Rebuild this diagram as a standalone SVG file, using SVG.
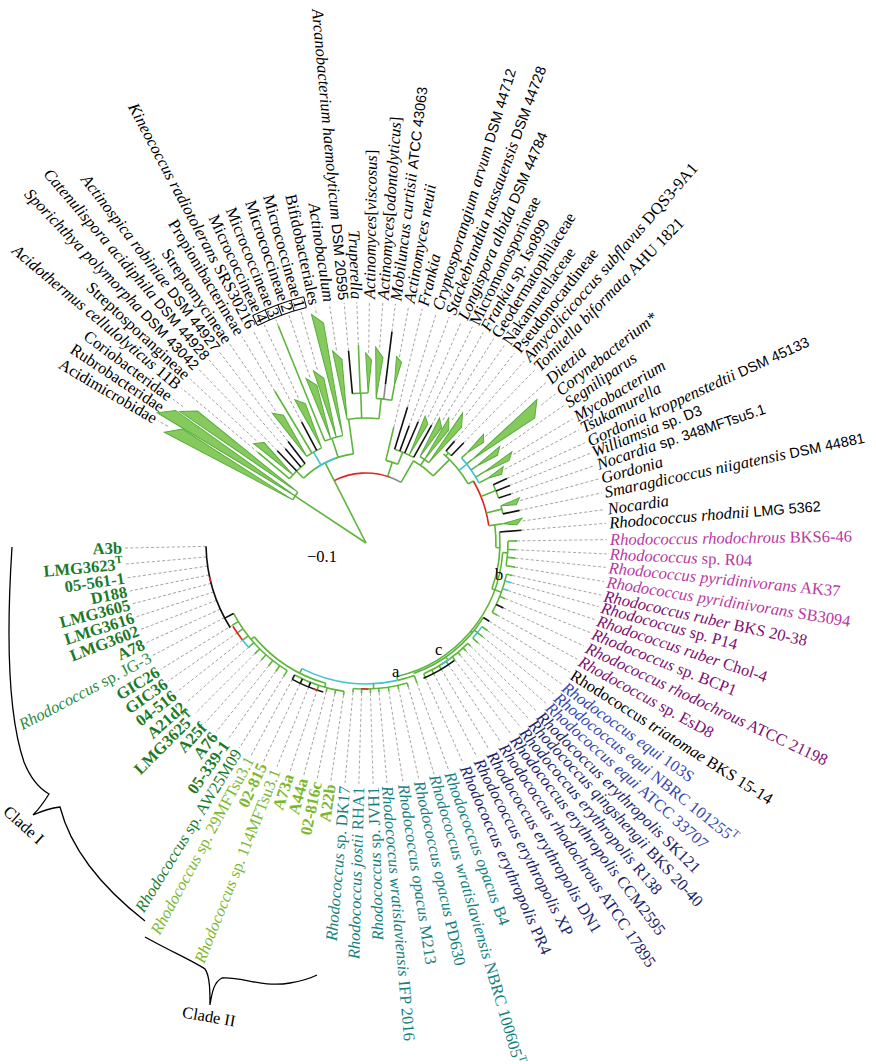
<svg xmlns="http://www.w3.org/2000/svg" width="876" height="1064" viewBox="0 0 876 1064">
<style>
.t{font-family:"Liberation Serif","Times New Roman",serif;font-size:16.5px;fill:#000}
.e{text-anchor:end}
.i{font-style:italic}
.s{font-family:"Liberation Sans",Arial,sans-serif;font-size:14.5px}
.bd{font-weight:bold}
.mg{fill:#b8399f}
.pu{fill:#7d0f72}
.bl{fill:#3447b0}
.nv{fill:#1c1f6e}
.te{fill:#14817f}
.lg{fill:#7ab82e}
.dg{fill:#1a7a2a}
.dg2{fill:#2c8c3c}
.g{stroke:#5db63b;stroke-width:1.6;fill:none}
.k{stroke:#111;stroke-width:1.6;fill:none}
.r{stroke:#e3231d;stroke-width:1.6;fill:none}
.c{stroke:#3fc3d9;stroke-width:1.6;fill:none}
.y{stroke:#8a8a8a;stroke-width:1.6;fill:none}
.tri{fill:#86c95d;stroke:#57ae3b;stroke-width:1}
.d{stroke:#a0a0a0;stroke-width:0.9;stroke-dasharray:3 2.2;fill:none}
.br{stroke:#000;stroke-width:1.3;fill:none}
.lad{stroke:#000;stroke-width:1;fill:none}
</style>

<g id="connectors" transform="translate(366 543)">
<g id="leaders">
<line class="d" x1="230" x2="241" transform="rotate(210.5)"/>
<line class="d" x1="228" x2="241" transform="rotate(216.7)"/>
<line class="d" x1="141" x2="241" transform="rotate(220)"/>
<line class="d" x1="150" x2="241" transform="rotate(223)"/>
<line class="d" x1="128" x2="241" transform="rotate(226.1)"/>
<line class="d" x1="124" x2="241" transform="rotate(229.4)"/>
<line class="d" x1="128" x2="241" transform="rotate(232.5)"/>
<line class="d" x1="160" x2="241" transform="rotate(235.6)"/>
<line class="d" x1="177" x2="241" transform="rotate(239)"/>
<line class="d" x1="137" x2="241" transform="rotate(242)"/>
<line class="d" x1="160" x2="241" transform="rotate(245)"/>
<line class="d" x1="234" x2="241" transform="rotate(248)"/>
<line class="d" x1="175" x2="241" transform="rotate(251.3)"/>
<line class="d" x1="180" x2="241" transform="rotate(254.3)"/>
<line class="d" x1="235" x2="241" transform="rotate(257.8)"/>
<line class="d" x1="195" x2="241" transform="rotate(261.3)"/>
<line class="d" x1="193" x2="241" transform="rotate(264.8)"/>
<line class="d" x1="198" x2="241" transform="rotate(267.8)"/>
<line class="d" x1="190" x2="241" transform="rotate(270.8)"/>
<line class="d" x1="196" x2="241" transform="rotate(274)"/>
<line class="d" x1="213" x2="241" transform="rotate(277)"/>
<line class="d" x1="189" x2="241" transform="rotate(280.2)"/>
<line class="d" x1="119" x2="241" transform="rotate(283.5)"/>
<line class="d" x1="142" x2="241" transform="rotate(287)"/>
<line class="d" x1="125" x2="241" transform="rotate(290.2)"/>
<line class="d" x1="132" x2="241" transform="rotate(293.3)"/>
<line class="d" x1="140" x2="241" transform="rotate(296.2)"/>
<line class="d" x1="135" x2="241" transform="rotate(299.1)"/>
<line class="d" x1="145" x2="241" transform="rotate(302)"/>
<line class="d" x1="150" x2="241" transform="rotate(305)"/>
<line class="d" x1="162" x2="241" transform="rotate(308)"/>
<line class="d" x1="135" x2="241" transform="rotate(311)"/>
<line class="d" x1="140" x2="241" transform="rotate(314.3)"/>
<line class="d" x1="160" x2="241" transform="rotate(318.3)"/>
<line class="d" x1="223" x2="241" transform="rotate(321.8)"/>
<line class="d" x1="165" x2="241" transform="rotate(325.2)"/>
<line class="d" x1="172" x2="241" transform="rotate(329)"/>
<line class="d" x1="157" x2="241" transform="rotate(332)"/>
<line class="d" x1="155" x2="241" transform="rotate(335.4)"/>
<line class="d" x1="155" x2="241" transform="rotate(338.2)"/>
<line class="d" x1="153" x2="241" transform="rotate(341.3)"/>
<line class="d" x1="160" x2="241" transform="rotate(344.6)"/>
<line class="d" x1="157" x2="241" transform="rotate(348)"/>
<line class="d" x1="158" x2="241" transform="rotate(352)"/>
<line class="d" x1="156" x2="241" transform="rotate(355.3)"/>
<line class="d" x1="151" x2="241" transform="rotate(359.2)"/>
<line class="d" x1="150" x2="241" transform="rotate(362.6)"/>
<line class="d" x1="150" x2="241" transform="rotate(365.8)"/>
<line class="d" x1="151" x2="241" transform="rotate(369.2)"/>
<line class="d" x1="150" x2="241" transform="rotate(372.5)"/>
<line class="d" x1="151" x2="241" transform="rotate(375.3)"/>
<line class="d" x1="150" x2="241" transform="rotate(378.5)"/>
<line class="d" x1="150" x2="241" transform="rotate(381.8)"/>
<line class="d" x1="152" x2="241" transform="rotate(385.3)"/>
<line class="d" x1="150" x2="241" transform="rotate(388.8)"/>
<line class="d" x1="146" x2="241" transform="rotate(392.4)"/>
<line class="d" x1="150" x2="241" transform="rotate(395.8)"/>
<line class="d" x1="150" x2="241" transform="rotate(398.8)"/>
<line class="d" x1="150" x2="241" transform="rotate(401.7)"/>
<line class="d" x1="147" x2="241" transform="rotate(404.6)"/>
<line class="d" x1="147" x2="241" transform="rotate(407.2)"/>
<line class="d" x1="147" x2="241" transform="rotate(410)"/>
<line class="d" x1="147" x2="241" transform="rotate(412.8)"/>
<line class="d" x1="147" x2="241" transform="rotate(415.9)"/>
<line class="d" x1="147" x2="241" transform="rotate(419.2)"/>
<line class="d" x1="147" x2="241" transform="rotate(422.6)"/>
<line class="d" x1="147" x2="241" transform="rotate(426.2)"/>
<line class="d" x1="149" x2="241" transform="rotate(430)"/>
<line class="d" x1="150" x2="241" transform="rotate(433.6)"/>
<line class="d" x1="150" x2="241" transform="rotate(437.4)"/>
<line class="d" x1="150" x2="241" transform="rotate(441.2)"/>
<line class="d" x1="150" x2="241" transform="rotate(445)"/>
<line class="d" x1="150" x2="241" transform="rotate(448.3)"/>
<line class="d" x1="150" x2="241" transform="rotate(451.7)"/>
<line class="d" x1="150" x2="241" transform="rotate(455)"/>
<line class="d" x1="154" x2="241" transform="rotate(458.4)"/>
<line class="d" x1="154" x2="241" transform="rotate(461.7)"/>
<line class="d" x1="154" x2="241" transform="rotate(465)"/>
<line class="d" x1="154" x2="241" transform="rotate(468.4)"/>
<line class="d" x1="155" x2="241" transform="rotate(471.7)"/>
<line class="d" x1="155" x2="241" transform="rotate(475.1)"/>
<line class="d" x1="155" x2="241" transform="rotate(478.4)"/>
<line class="d" x1="157" x2="241" transform="rotate(481.7)"/>
<line class="d" x1="157" x2="241" transform="rotate(485.1)"/>
<line class="d" x1="157" x2="241" transform="rotate(488.4)"/>
<line class="d" x1="157" x2="241" transform="rotate(491.8)"/>
<line class="d" x1="157" x2="241" transform="rotate(495.1)"/>
<line class="d" x1="157" x2="241" transform="rotate(498.4)"/>
<line class="d" x1="157" x2="241" transform="rotate(501.8)"/>
<line class="d" x1="157" x2="241" transform="rotate(505.1)"/>
<line class="d" x1="157" x2="241" transform="rotate(508.4)"/>
<line class="d" x1="160" x2="241" transform="rotate(512.2)"/>
<line class="d" x1="160" x2="241" transform="rotate(515.6)"/>
<line class="d" x1="160" x2="241" transform="rotate(519)"/>
<line class="d" x1="160" x2="241" transform="rotate(522.2)"/>
<line class="d" x1="160" x2="241" transform="rotate(525.4)"/>
<line class="d" x1="160" x2="241" transform="rotate(528.5)"/>
<line class="d" x1="160" x2="241" transform="rotate(531.7)"/>
<line class="d" x1="160" x2="241" transform="rotate(535)"/>
<line class="d" x1="160" x2="241" transform="rotate(538.8)"/>
</g>
<g id="tree">
<line class="g" x2="85" transform="rotate(213.5)"/>
<line class="g" x2="70" transform="rotate(243)"/>
<circle class="g" r="85" pathLength="360" stroke-dasharray="6.2 720" transform="rotate(210.5)"/>
<polygon class="tri" points="85,0 230,-7 216,5" transform="rotate(210.5)"/>
<polygon class="tri" points="85,0 246,-7 232,5" transform="rotate(213.6)"/>
<polygon class="tri" points="85,0 228,-6 214,5" transform="rotate(216.7)"/>
<circle class="r" r="70" pathLength="360" stroke-dasharray="47 720" transform="rotate(243)"/>
<circle class="y" r="70" pathLength="360" stroke-dasharray="10 720" transform="rotate(290)"/>
<line class="g" x1="70" x2="90" transform="rotate(243)"/>
<circle class="g" r="90" pathLength="360" stroke-dasharray="36 720" transform="rotate(226)"/>
<circle class="c" r="90" pathLength="360" stroke-dasharray="14 720" transform="rotate(236)"/>
<line class="g" x1="90" x2="100" transform="rotate(226)"/>
<circle class="g" r="100" pathLength="360" stroke-dasharray="12.5 720" transform="rotate(220)"/>
<line class="g" x1="100" x2="141" transform="rotate(220)"/>
<polygon class="tri" points="100,0 150,-4 143,4" transform="rotate(223)"/>
<line class="k" x1="100" x2="128" transform="rotate(226.1)"/>
<line class="k" x1="100" x2="124" transform="rotate(229.4)"/>
<line class="k" x1="100" x2="128" transform="rotate(232.5)"/>
<line class="c" x1="90" x2="105" transform="rotate(240)"/>
<circle class="g" r="105" pathLength="360" stroke-dasharray="9.4 720" transform="rotate(235.6)"/>
<polygon class="tri" points="105,0 160,-4 152,4" transform="rotate(235.6)"/>
<line class="g" x1="105" x2="177" transform="rotate(239)"/>
<line class="k" x1="105" x2="137" transform="rotate(242)"/>
<polygon class="tri" points="105,0 160,-4 152,4" transform="rotate(245)"/>
<line class="g" x1="90" x2="110" transform="rotate(252)"/>
<circle class="g" r="110" pathLength="360" stroke-dasharray="9.8 720" transform="rotate(248)"/>
<line class="g" x1="110" x2="234" transform="rotate(248)"/>
<polygon class="tri" points="110,0 175,-4 165,4" transform="rotate(251.3)"/>
<polygon class="tri" points="110,0 180,-4 170,4" transform="rotate(254.3)"/>
<polygon class="tri" points="110,0 235,-5 224,5" transform="rotate(257.8)"/>
<line class="g" x1="90" x2="125" transform="rotate(262)"/>
<circle class="g" r="125" pathLength="360" stroke-dasharray="14.7 720" transform="rotate(261.3)"/>
<polygon class="tri" points="125,0 195,-4 185,4" transform="rotate(261.3)"/>
<line class="g" x1="125" x2="150" transform="rotate(268)"/>
<circle class="g" r="150" pathLength="360" stroke-dasharray="6 720" transform="rotate(264.8)"/>
<line class="k" x1="150" x2="193" transform="rotate(264.8)"/>
<line class="g" x1="150" x2="198" transform="rotate(267.8)"/>
<polygon class="tri" points="150,0 190,-3 183,3" transform="rotate(270.8)"/>
<line class="g" x1="125" x2="145" transform="rotate(276)"/>
<circle class="g" r="145" pathLength="360" stroke-dasharray="6.2 720" transform="rotate(274)"/>
<polygon class="tri" points="145,0 196,-4 186,4" transform="rotate(274)"/>
<line class="y" x1="145" x2="160" transform="rotate(277)"/>
<line class="k" x1="160" x2="213" transform="rotate(277)"/>
<line class="g" x1="145" x2="160" transform="rotate(280.2)"/>
<polygon class="tri" points="160,0 189,-3 184,3" transform="rotate(280.2)"/>
<line class="g" x1="70" x2="85" transform="rotate(288)"/>
<circle class="g" r="85" pathLength="360" stroke-dasharray="8.5 720" transform="rotate(283.5)"/>
<line class="g" x1="85" x2="119" transform="rotate(283.5)"/>
<line class="g" x1="85" x2="98" transform="rotate(292)"/>
<circle class="g" r="98" pathLength="360" stroke-dasharray="12.1 720" transform="rotate(287)"/>
<line class="k" x1="98" x2="142" transform="rotate(287)"/>
<line class="k" x1="98" x2="125" transform="rotate(290.2)"/>
<line class="k" x1="98" x2="132" transform="rotate(293.3)"/>
<polygon class="tri" points="98,0 140,-3 134,3" transform="rotate(296.2)"/>
<line class="k" x1="98" x2="135" transform="rotate(299.1)"/>
<line class="g" x1="70" x2="95" transform="rotate(300)"/>
<circle class="g" r="95" pathLength="360" stroke-dasharray="15 720" transform="rotate(300)"/>
<line class="g" x1="95" x2="102" transform="rotate(305)"/>
<circle class="g" r="102" pathLength="360" stroke-dasharray="6 720" transform="rotate(302)"/>
<polygon class="tri" points="102,0 145,-4 138,3" transform="rotate(302)"/>
<polygon class="tri" points="102,0 150,-4 140,3" transform="rotate(305)"/>
<polygon class="tri" points="102,0 162,-4 150,4" transform="rotate(308)"/>
<line class="g" x1="95" x2="118" transform="rotate(315)"/>
<circle class="g" r="118" pathLength="360" stroke-dasharray="19 720" transform="rotate(311)"/>
<line class="g" x1="118" x2="122" transform="rotate(312.5)"/>
<circle class="g" r="122" pathLength="360" stroke-dasharray="3.3 720" transform="rotate(311)"/>
<line class="k" x1="122" x2="135" transform="rotate(311)"/>
<line class="k" x1="122" x2="140" transform="rotate(314.3)"/>
<line class="c" x1="118" x2="128" transform="rotate(322)"/>
<circle class="c" r="128" pathLength="360" stroke-dasharray="13.7 720" transform="rotate(318.3)"/>
<line class="g" x1="128" x2="135" transform="rotate(318.3)"/><polygon class="tri" points="135,0 160,-3 155,3" transform="rotate(318.3)"/>
<line class="g" x1="128" x2="135" transform="rotate(321.8)"/><polygon class="tri" points="135,0 223,-7 210,6" transform="rotate(321.8)"/>
<line class="g" x1="128" x2="135" transform="rotate(325.2)"/><polygon class="tri" points="135,0 165,-3 158,3" transform="rotate(325.2)"/>
<line class="g" x1="128" x2="138" transform="rotate(329)"/><polygon class="tri" points="138,0 172,-3 165,3" transform="rotate(329)"/>
<line class="g" x1="128" x2="138" transform="rotate(332)"/><polygon class="tri" points="138,0 157,-3 152,3" transform="rotate(332)"/>
<line class="g" x1="118" x2="124" transform="rotate(330)"/>
<circle class="r" r="124" pathLength="360" stroke-dasharray="22 720" transform="rotate(330)"/>
<line class="g" x1="124" x2="140" transform="rotate(338)"/>
<circle class="g" r="140" pathLength="360" stroke-dasharray="5.9 720" transform="rotate(335.4)"/>
<line class="k" x1="140" x2="155" transform="rotate(335.4)"/>
<line class="k" x1="140" x2="155" transform="rotate(338.2)"/>
<line class="k" x1="140" x2="153" transform="rotate(341.3)"/>
<line class="g" x1="124" x2="140" transform="rotate(346)"/>
<circle class="g" r="140" pathLength="360" stroke-dasharray="3.4 720" transform="rotate(344.6)"/>
<polygon class="tri" points="140,0 160,-3 155,3" transform="rotate(344.6)"/>
<line class="k" x1="140" x2="157" transform="rotate(348)"/>
<line class="g" x1="124" x2="130" transform="rotate(352)"/>
<circle class="g" r="130" pathLength="360" stroke-dasharray="10 720" transform="rotate(352)"/>
<line class="g" x1="130" x2="138" transform="rotate(352)"/>
<polygon class="tri" points="138,0 158,-3 152,3" transform="rotate(352)"/>
<line class="g" x1="130" x2="134" transform="rotate(362)"/>
<circle class="g" r="134" pathLength="360" stroke-dasharray="24.7 720" transform="rotate(355.3)"/>
<line class="k" x1="134" x2="156" transform="rotate(355.3)"/>
<line class="g" x1="134" x2="137" transform="rotate(380)"/>
<circle class="g" r="137" pathLength="360" stroke-dasharray="73 720" transform="rotate(364)"/>
<line class="g" x1="137" x2="142" transform="rotate(364)"/>
<circle class="g" r="142" pathLength="360" stroke-dasharray="10 720" transform="rotate(359.2)"/>
<line class="g" x1="142" x2="151" transform="rotate(359.2)"/>
<line class="g" x1="142" x2="150" transform="rotate(362.6)"/>
<line class="g" x1="142" x2="150" transform="rotate(365.8)"/>
<line class="g" x1="142" x2="151" transform="rotate(369.2)"/>
<line class="g" x1="137" x2="144" transform="rotate(380)"/>
<circle class="g" r="144" pathLength="360" stroke-dasharray="16.3 720" transform="rotate(372.5)"/>
<line class="g" x1="144" x2="150" transform="rotate(372.5)"/>
<line class="c" x1="144" x2="151" transform="rotate(375.3)"/>
<line class="c" x1="144" x2="150" transform="rotate(378.5)"/>
<line class="g" x1="144" x2="150" transform="rotate(381.8)"/>
<line class="k" x1="144" x2="152" transform="rotate(385.3)"/>
<line class="g" x1="144" x2="150" transform="rotate(388.8)"/>
<line class="g" x1="137" x2="139" transform="rotate(400)"/>
<circle class="g" r="139" pathLength="360" stroke-dasharray="37.6 720" transform="rotate(392.4)"/>
<line class="k" x1="139" x2="146" transform="rotate(392.4)"/>
<line class="g" x1="139" x2="143" transform="rotate(398.8)"/>
<circle class="c" r="143" pathLength="360" stroke-dasharray="5.9 720" transform="rotate(395.8)"/>
<line class="g" x1="143" x2="150" transform="rotate(395.8)"/>
<line class="g" x1="143" x2="150" transform="rotate(398.8)"/>
<line class="g" x1="143" x2="150" transform="rotate(401.7)"/>
<line class="g" x1="139" x2="143" transform="rotate(415)"/>
<circle class="g" r="143" pathLength="360" stroke-dasharray="21.6 720" transform="rotate(404.6)"/>
<circle class="c" r="143" pathLength="360" stroke-dasharray="4 720" transform="rotate(414)"/>
<line class="g" x1="143" x2="147" transform="rotate(404.6)"/>
<line class="g" x1="143" x2="147" transform="rotate(407.2)"/>
<line class="g" x1="143" x2="147" transform="rotate(410)"/>
<line class="g" x1="143" x2="147" transform="rotate(412.8)"/>
<line class="g" x1="143" x2="147" transform="rotate(415.9)"/>
<line class="g" x1="143" x2="147" transform="rotate(419.2)"/>
<line class="g" x1="143" x2="147" transform="rotate(422.6)"/>
<line class="g" x1="143" x2="147" transform="rotate(426.2)"/>
<circle class="k" r="147" pathLength="360" stroke-dasharray="14 720" transform="rotate(413)"/>
<line class="g" x1="137" x2="141" transform="rotate(437)"/>
<circle class="g" r="141" pathLength="360" stroke-dasharray="7 720" transform="rotate(430)"/>
<circle class="c" r="141" pathLength="360" stroke-dasharray="40 720" transform="rotate(437)"/>
<line class="g" x1="141" x2="149" transform="rotate(430)"/>
<line class="g" x1="141" x2="146" transform="rotate(447)"/>
<circle class="g" r="146" pathLength="360" stroke-dasharray="21.4 720" transform="rotate(433.6)"/>
<circle class="r" r="146" pathLength="360" stroke-dasharray="3 720" transform="rotate(449)"/>
<line class="g" x1="146" x2="150" transform="rotate(433.6)"/>
<line class="g" x1="146" x2="150" transform="rotate(437.4)"/>
<line class="g" x1="146" x2="150" transform="rotate(441.2)"/>
<line class="g" x1="146" x2="150" transform="rotate(445)"/>
<line class="g" x1="146" x2="150" transform="rotate(448.3)"/>
<line class="g" x1="146" x2="150" transform="rotate(451.7)"/>
<line class="g" x1="146" x2="150" transform="rotate(455)"/>
<line class="g" x1="141" x2="146" transform="rotate(477)"/>
<circle class="g" r="146" pathLength="360" stroke-dasharray="34 720" transform="rotate(466)"/>
<line class="g" x1="146" x2="150" transform="rotate(466)"/>
<circle class="g" r="150" pathLength="360" stroke-dasharray="20 720" transform="rotate(458.4)"/>
<line class="g" x1="150" x2="154" transform="rotate(458.4)"/>
<line class="g" x1="150" x2="154" transform="rotate(461.7)"/>
<line class="g" x1="150" x2="154" transform="rotate(465)"/>
<line class="g" x1="150" x2="154" transform="rotate(468.4)"/>
<line class="k" x1="150" x2="155" transform="rotate(471.7)"/>
<line class="k" x1="150" x2="155" transform="rotate(475.1)"/>
<line class="k" x1="150" x2="155" transform="rotate(478.4)"/>
<circle class="k" r="155" pathLength="360" stroke-dasharray="12.4 720" transform="rotate(466)"/>
<circle class="r" r="155" pathLength="360" stroke-dasharray="2 720" transform="rotate(468)"/>
<line class="g" x1="146" x2="150" transform="rotate(500)"/>
<circle class="g" r="150" pathLength="360" stroke-dasharray="30.3 720" transform="rotate(481.7)"/>
<line class="g" x1="150" x2="157" transform="rotate(481.7)"/>
<line class="g" x1="150" x2="157" transform="rotate(485.1)"/>
<line class="g" x1="150" x2="157" transform="rotate(488.4)"/>
<line class="g" x1="150" x2="157" transform="rotate(491.8)"/>
<line class="g" x1="150" x2="157" transform="rotate(495.1)"/>
<line class="g" x1="150" x2="157" transform="rotate(498.4)"/>
<line class="g" x1="150" x2="157" transform="rotate(501.8)"/>
<line class="g" x1="150" x2="157" transform="rotate(505.1)"/>
<line class="g" x1="150" x2="157" transform="rotate(508.4)"/>
<circle class="c" r="157" pathLength="360" stroke-dasharray="4 720" transform="rotate(498)"/>
<circle class="r" r="157" pathLength="360" stroke-dasharray="6 720" transform="rotate(502)"/>
<line class="k" x1="150" x2="160" transform="rotate(512)"/>
<circle class="k" r="160" pathLength="360" stroke-dasharray="30.8 720" transform="rotate(508)"/>
<circle class="r" r="160" pathLength="360" stroke-dasharray="1.8 720" transform="rotate(526)"/>
</g>
<g id="micrococcineae-bracket">
<circle class="lad" r="243" pathLength="360" stroke-dasharray="12.3 720" transform="rotate(243.5)"/>
<circle class="lad" r="254" pathLength="360" stroke-dasharray="12.3 720" transform="rotate(243.5)"/>
<line class="lad" x1="243" x2="254" transform="rotate(243.5)"/>
<line class="lad" x1="243" x2="254" transform="rotate(246.6)"/>
<line class="lad" x1="243" x2="254" transform="rotate(249.7)"/>
<line class="lad" x1="243" x2="254" transform="rotate(252.8)"/>
<line class="lad" x1="243" x2="254" transform="rotate(255.8)"/>
</g>
</g>

<g id="n01" transform="translate(366 543) rotate(30.5)"><text class="t e" x="-244" y="5.5">Acidimicrobidae</text></g>
<g id="n02" transform="translate(366 543) rotate(33.6)"><text class="t e" x="-244" y="5.5">Rubrobacteridae</text></g>
<g id="n03" transform="translate(366 543) rotate(36.7)"><text class="t e" x="-244" y="5.5">Coriobacteridae</text></g>
<g id="n04" transform="translate(366 543) rotate(40)"><text class="t e" x="-244" y="5.5"><tspan class="i">Acidothermus cellulolyticus</tspan> 11B</text></g>
<g id="n05" transform="translate(366 543) rotate(43)"><text class="t e" x="-244" y="5.5">Streptosporangineae</text></g>
<g id="n06" transform="translate(366 543) rotate(46.1)"><text class="t e" x="-244" y="5.5"><tspan class="i">Sporichthya polymorpha</tspan> <tspan class="s">DSM 43042</tspan></text></g>
<g id="n07" transform="translate(366 543) rotate(49.4)"><text class="t e" x="-244" y="5.5"><tspan class="i">Catenulispora acidiphila</tspan> <tspan class="s">DSM 44928</tspan></text></g>
<g id="n08" transform="translate(366 543) rotate(52.5)"><text class="t e" x="-244" y="5.5"><tspan class="i">Actinospica robiniae</tspan> <tspan class="s">DSM 44927</tspan></text></g>
<g id="n09" transform="translate(366 543) rotate(55.6)"><text class="t e" x="-244" y="5.5">Streptomycineae</text></g>
<g id="n10" transform="translate(366 543) rotate(59)"><text class="t e" x="-244" y="5.5">Propionibacterineae</text></g>
<g id="n11" transform="translate(366 543) rotate(62)"><text class="t e" x="-244" y="5.5"><tspan class="i">Kineococcus radiotolerans</tspan> SRS30216</text></g>
<g id="n12" transform="translate(366 543) rotate(65)"><text class="t e" x="-256" y="5.5">Micrococcineae</text><text class="t" x="-248.5" y="5" text-anchor="middle" font-size="14">4</text></g>
<g id="n13" transform="translate(366 543) rotate(68)"><text class="t e" x="-256" y="5.5">Micrococcineae</text><text class="t" x="-248.5" y="5" text-anchor="middle" font-size="14">3</text></g>
<g id="n14" transform="translate(366 543) rotate(71.3)"><text class="t e" x="-256" y="5.5">Micrococcineae</text><text class="t" x="-248.5" y="5" text-anchor="middle" font-size="14">2</text></g>
<g id="n15" transform="translate(366 543) rotate(74.3)"><text class="t e" x="-256" y="5.5">Micrococcineae</text><text class="t" x="-248.5" y="5" text-anchor="middle" font-size="14">1</text></g>
<g id="n16" transform="translate(366 543) rotate(77.8)"><text class="t e" x="-244" y="5.5">Bifidobacteriales</text></g>
<g id="n17" transform="translate(366 543) rotate(81.3)"><text class="t e i" x="-244" y="5.5">Actinobaculum</text></g>
<g id="n18" transform="translate(366 543) rotate(84.8)"><text class="t e" x="-244" y="5.5"><tspan class="i">Arcanobacterium haemolyticum</tspan> <tspan class="s">DSM 20595</tspan></text></g>
<g id="n19" transform="translate(366 543) rotate(87.8)"><text class="t e i" x="-244" y="5.5">Truperella</text></g>
<g id="n20" transform="translate(366 543) rotate(270.8)"><text class="t" x="244" y="5.5"><tspan class="i">Actinomyces</tspan>[<tspan class="i">viscosus</tspan>]</text></g>
<g id="n21" transform="translate(366 543) rotate(274)"><text class="t" x="244" y="5.5"><tspan class="i">Actinomyces</tspan>[<tspan class="i">odontolyticus</tspan>]</text></g>
<g id="n22" transform="translate(366 543) rotate(277)"><text class="t" x="244" y="5.5"><tspan class="i">Mobiluncus curtisii</tspan> <tspan class="s">ATCC 43063</tspan></text></g>
<g id="n23" transform="translate(366 543) rotate(280.2)"><text class="t i" x="244" y="5.5">Actinomyces neuii</text></g>
<g id="n24" transform="translate(366 543) rotate(283.5)"><text class="t i" x="244" y="5.5">Frankia</text></g>
<g id="n25" transform="translate(366 543) rotate(287)"><text class="t" x="244" y="5.5"><tspan class="i">Cryptosporangium arvum</tspan> <tspan class="s">DSM 44712</tspan></text></g>
<g id="n26" transform="translate(366 543) rotate(290.2)"><text class="t" x="244" y="5.5"><tspan class="i">Stackebrandtia nassauensis</tspan> <tspan class="s">DSM 44728</tspan></text></g>
<g id="n27" transform="translate(366 543) rotate(293.3)"><text class="t" x="244" y="5.5"><tspan class="i">Longispora albida</tspan> <tspan class="s">DSM 44784</tspan></text></g>
<g id="n28" transform="translate(366 543) rotate(296.2)"><text class="t" x="244" y="5.5">Micromonosporineae</text></g>
<g id="n29" transform="translate(366 543) rotate(299.1)"><text class="t" x="244" y="5.5"><tspan class="i">Frankia</tspan> sp. Iso899</text></g>
<g id="n30" transform="translate(366 543) rotate(302)"><text class="t" x="244" y="5.5">Geodermatophilaceae</text></g>
<g id="n31" transform="translate(366 543) rotate(305)"><text class="t" x="244" y="5.5">Nakamurellaceae</text></g>
<g id="n32" transform="translate(366 543) rotate(308)"><text class="t" x="244" y="5.5">Pseudonocardineae</text></g>
<g id="n33" transform="translate(366 543) rotate(311)"><text class="t" x="244" y="5.5"><tspan class="i">Amycolicicoccus subflavus</tspan> DQS3-9A1</text></g>
<g id="n34" transform="translate(366 543) rotate(314.3)"><text class="t" x="244" y="5.5"><tspan class="i">Tomitella biformata</tspan> AHU 1821</text></g>
<g id="n35" transform="translate(366 543) rotate(318.3)"><text class="t i" x="244" y="5.5">Dietzia</text></g>
<g id="n36" transform="translate(366 543) rotate(321.8)"><text class="t i" x="244" y="5.5">Corynebacterium*</text></g>
<g id="n37" transform="translate(366 543) rotate(325.2)"><text class="t i" x="244" y="5.5">Segniliparus</text></g>
<g id="n38" transform="translate(366 543) rotate(329)"><text class="t i" x="244" y="5.5">Mycobacterium</text></g>
<g id="n39" transform="translate(366 543) rotate(332)"><text class="t i" x="244" y="5.5">Tsukamurella</text></g>
<g id="n40" transform="translate(366 543) rotate(335.4)"><text class="t" x="244" y="5.5"><tspan class="i">Gordonia kroppenstedtii</tspan> <tspan class="s">DSM 45133</tspan></text></g>
<g id="n41" transform="translate(366 543) rotate(338.2)"><text class="t" x="244" y="5.5"><tspan class="i">Williamsia</tspan> <tspan class="s">sp. D3</tspan></text></g>
<g id="n42" transform="translate(366 543) rotate(341.3)"><text class="t" x="244" y="5.5"><tspan class="i">Nocardia</tspan> <tspan class="s">sp. 348MFTsu5.1</tspan></text></g>
<g id="n43" transform="translate(366 543) rotate(344.6)"><text class="t i" x="244" y="5.5">Gordonia</text></g>
<g id="n44" transform="translate(366 543) rotate(348)"><text class="t" x="244" y="5.5"><tspan class="i">Smaragdicoccus niigatensis</tspan> <tspan class="s">DSM 44881</tspan></text></g>
<g id="n45" transform="translate(366 543) rotate(352)"><text class="t i" x="244" y="5.5">Nocardia</text></g>
<g id="n46" transform="translate(366 543) rotate(355.3)"><text class="t" x="244" y="5.5"><tspan class="i">Rhodococcus rhodnii</tspan> <tspan class="s">LMG 5362</tspan></text></g>
<g id="n47" transform="translate(366 543) rotate(359.2)"><text class="t mg" x="244" y="5.5"><tspan class="i">Rhodococcus rhodochrous</tspan> BKS6-46</text></g>
<g id="n48" transform="translate(366 543) rotate(2.6)"><text class="t mg" x="244" y="5.5"><tspan class="i">Rhodococcus</tspan> sp. R04</text></g>
<g id="n49" transform="translate(366 543) rotate(5.8)"><text class="t mg" x="244" y="5.5"><tspan class="i">Rhodococcus pyridinivorans</tspan> AK37</text></g>
<g id="n50" transform="translate(366 543) rotate(9.2)"><text class="t mg" x="244" y="5.5"><tspan class="i">Rhodococcus pyridinivorans</tspan> SB3094</text></g>
<g id="n51" transform="translate(366 543) rotate(12.5)"><text class="t pu" x="244" y="5.5"><tspan class="i">Rhodococcus ruber</tspan> BKS 20-38</text></g>
<g id="n52" transform="translate(366 543) rotate(15.3)"><text class="t pu" x="244" y="5.5"><tspan class="i">Rhodococcus</tspan> sp. P14</text></g>
<g id="n53" transform="translate(366 543) rotate(18.5)"><text class="t pu" x="244" y="5.5"><tspan class="i">Rhodococcus ruber</tspan> Chol-4</text></g>
<g id="n54" transform="translate(366 543) rotate(21.8)"><text class="t pu" x="244" y="5.5"><tspan class="i">Rhodococcus</tspan> sp. BCP1</text></g>
<g id="n55" transform="translate(366 543) rotate(25.3)"><text class="t pu" x="244" y="5.5"><tspan class="i">Rhodococcus rhodochrous</tspan> ATCC 21198</text></g>
<g id="n56" transform="translate(366 543) rotate(28.8)"><text class="t pu" x="244" y="5.5"><tspan class="i">Rhodococcus</tspan> sp. EsD8</text></g>
<g id="n57" transform="translate(366 543) rotate(32.4)"><text class="t" x="244" y="5.5">Rhodococcus <tspan class="i">triatomae</tspan> BKS 15-14</text></g>
<g id="n58" transform="translate(366 543) rotate(35.8)"><text class="t bl" x="244" y="5.5"><tspan class="i">Rhodococcus equi</tspan> 103S</text></g>
<g id="n59" transform="translate(366 543) rotate(38.8)"><text class="t bl" x="244" y="5.5"><tspan class="i">Rhodococcus equi</tspan> NBRC 101255<tspan dy="-7" font-size="11">T</tspan></text></g>
<g id="n60" transform="translate(366 543) rotate(41.7)"><text class="t bl" x="244" y="5.5"><tspan class="i">Rhodococcus equi</tspan> ATCC 33707</text></g>
<g id="n61" transform="translate(366 543) rotate(44.6)"><text class="t nv" x="244" y="5.5"><tspan class="i">Rhodococcus erythropolis</tspan> SK121</text></g>
<g id="n62" transform="translate(366 543) rotate(47.2)"><text class="t nv" x="244" y="5.5"><tspan class="i">Rhodococcus qingshengii</tspan> BKS 20-40</text></g>
<g id="n63" transform="translate(366 543) rotate(50)"><text class="t nv" x="244" y="5.5"><tspan class="i">Rhodococcus erythropolis</tspan> R138</text></g>
<g id="n64" transform="translate(366 543) rotate(52.8)"><text class="t nv" x="244" y="5.5"><tspan class="i">Rhodococcus erythropolis</tspan> CCM2595</text></g>
<g id="n65" transform="translate(366 543) rotate(55.9)"><text class="t nv" x="244" y="5.5"><tspan class="i">Rhodococcus rhodochrous</tspan> ATCC 17895</text></g>
<g id="n66" transform="translate(366 543) rotate(59.2)"><text class="t nv" x="244" y="5.5"><tspan class="i">Rhodococcus erythropolis</tspan> DN1</text></g>
<g id="n67" transform="translate(366 543) rotate(62.6)"><text class="t nv" x="244" y="5.5"><tspan class="i">Rhodococcus erythropolis</tspan> XP</text></g>
<g id="n68" transform="translate(366 543) rotate(66.2)"><text class="t nv" x="244" y="5.5"><tspan class="i">Rhodococcus erythropolis</tspan> PR4</text></g>
<g id="n69" transform="translate(366 543) rotate(70)"><text class="t te" x="244" y="5.5"><tspan class="i">Rhodococcus opacus</tspan> B4</text></g>
<g id="n70" transform="translate(366 543) rotate(73.6)"><text class="t te" x="242" y="5.5"><tspan class="i">Rhodococcus wratislaviensis</tspan> NBRC 100605<tspan dy="-7" font-size="11">T</tspan></text></g>
<g id="n71" transform="translate(366 543) rotate(77.4)"><text class="t te" x="244" y="5.5"><tspan class="i">Rhodococcus opacus</tspan> PD630</text></g>
<g id="n72" transform="translate(366 543) rotate(81.2)"><text class="t te" x="244" y="5.5"><tspan class="i">Rhodococcus opacus</tspan> M213</text></g>
<g id="n73" transform="translate(366 543) rotate(85)"><text class="t te" x="244" y="5.5"><tspan class="i">Rhodococcus wratislaviensis</tspan> IFP 2016</text></g>
<g id="n74" transform="translate(366 543) rotate(268.3)"><text class="t e te" x="-244" y="5.5"><tspan class="i">Rhodococcus</tspan> sp. JVH1</text></g>
<g id="n75" transform="translate(366 543) rotate(271.7)"><text class="t e te" x="-244" y="5.5"><tspan class="i">Rhodococcus jostii</tspan> RHA1</text></g>
<g id="n76" transform="translate(366 543) rotate(275)"><text class="t e te" x="-244" y="5.5"><tspan class="i">Rhodococcus</tspan> sp. DK17</text></g>
<g id="n77" transform="translate(366 543) rotate(278.4)"><text class="t e bd lg" x="-244" y="5.5">A22b</text></g>
<g id="n78" transform="translate(366 543) rotate(281.7)"><text class="t e bd lg" x="-244" y="5.5">02-816c</text></g>
<g id="n79" transform="translate(366 543) rotate(285)"><text class="t e bd lg" x="-244" y="5.5">A44a</text></g>
<g id="n80" transform="translate(366 543) rotate(288.4)"><text class="t e bd lg" x="-244" y="5.5">A73a</text></g>
<g id="n81" transform="translate(366 543) rotate(291.7)"><text class="t e lg" x="-244" y="5.5"><tspan class="i">Rhodococcus</tspan> sp. 114MFTsu3.1</text></g>
<g id="n82" transform="translate(366 543) rotate(295.1)"><text class="t e bd lg" x="-244" y="5.5">02-815</text></g>
<g id="n83" transform="translate(366 543) rotate(298.4)"><text class="t e lg" x="-244" y="5.5"><tspan class="i">Rhodococcus</tspan> sp. 29MFTsu3.1</text></g>
<g id="n84" transform="translate(366 543) rotate(301.7)"><text class="t e dg" x="-244" y="5.5"><tspan class="i">Rhodococcus</tspan> sp. AW25M09</text></g>
<g id="n85" transform="translate(366 543) rotate(305.1)"><text class="t e bd dg" x="-244" y="5.5">05-339-1</text></g>
<g id="n86" transform="translate(366 543) rotate(308.4)"><text class="t e bd dg" x="-244" y="5.5">A76</text></g>
<g id="n87" transform="translate(366 543) rotate(311.8)"><text class="t e bd dg" x="-244" y="5.5">A25f</text></g>
<g id="n88" transform="translate(366 543) rotate(315.1)"><text class="t e bd dg" x="-244" y="5.5">LMG3625<tspan dy="-7" font-size="11">T</tspan></text></g>
<g id="n89" transform="translate(366 543) rotate(318.4)"><text class="t e bd dg" x="-244" y="5.5">A21d2</text></g>
<g id="n90" transform="translate(366 543) rotate(321.8)"><text class="t e bd dg" x="-244" y="5.5">04-516</text></g>
<g id="n91" transform="translate(366 543) rotate(325.1)"><text class="t e bd dg" x="-244" y="5.5">GIC36</text></g>
<g id="n92" transform="translate(366 543) rotate(328.4)"><text class="t e bd dg" x="-244" y="5.5">GIC26</text></g>
<g id="n93" transform="translate(366 543) rotate(332.2)"><text class="t e dg2" x="-244" y="5.5"><tspan class="i">Rhodococcus</tspan> sp. JG-3</text></g>
<g id="n94" transform="translate(366 543) rotate(335.6)"><text class="t e bd dg" x="-244" y="5.5">A78</text></g>
<g id="n95" transform="translate(366 543) rotate(339)"><text class="t e bd dg" x="-244" y="5.5">LMG3602</text></g>
<g id="n96" transform="translate(366 543) rotate(342.2)"><text class="t e bd dg" x="-244" y="5.5">LMG3616</text></g>
<g id="n97" transform="translate(366 543) rotate(345.4)"><text class="t e bd dg" x="-244" y="5.5">LMG3605</text></g>
<g id="n98" transform="translate(366 543) rotate(348.5)"><text class="t e bd dg" x="-244" y="5.5">D188</text></g>
<g id="n99" transform="translate(366 543) rotate(351.7)"><text class="t e bd dg" x="-244" y="5.5">05-561-1</text></g>
<g id="n100" transform="translate(366 543) rotate(355)"><text class="t e bd dg" x="-244" y="5.5">LMG3623<tspan dy="-7" font-size="11">T</tspan></text></g>
<g id="n101" transform="translate(366 543) rotate(358.8)"><text class="t e bd dg" x="-244" y="5.5">A3b</text></g>

<g id="annotations">
<text class="t" x="307" y="562" font-size="17">−0.1</text>
<text class="t" x="392" y="677" font-size="15">a</text>
<text class="t" x="495" y="580" font-size="15">b</text>
<text class="t" x="435" y="655" font-size="15">c</text>
</g>
<g id="clade-I">
<path class="br" d="M12,547 C6,640 8,715 24,762 C32,782 42,790 49,794 C44,802 38,810 33,815 C42,811 52,808 60,807 C68,838 90,878 145,921"/>
<text class="t" font-size="17" text-anchor="middle" transform="translate(20,829) rotate(42)">Clade I</text>
</g>
<g id="clade-II">
<path class="br" d="M145,937 C170,951 195,962 205,969 C210,976 210,992 210,1005 C212,992 214,982 222,978 C240,976 262,988 290,983 C302,981 311,978 317,975"/>
<text class="t" font-size="17" text-anchor="middle" transform="translate(208,1022) rotate(10)">Clade II</text>
</g>
</svg>
